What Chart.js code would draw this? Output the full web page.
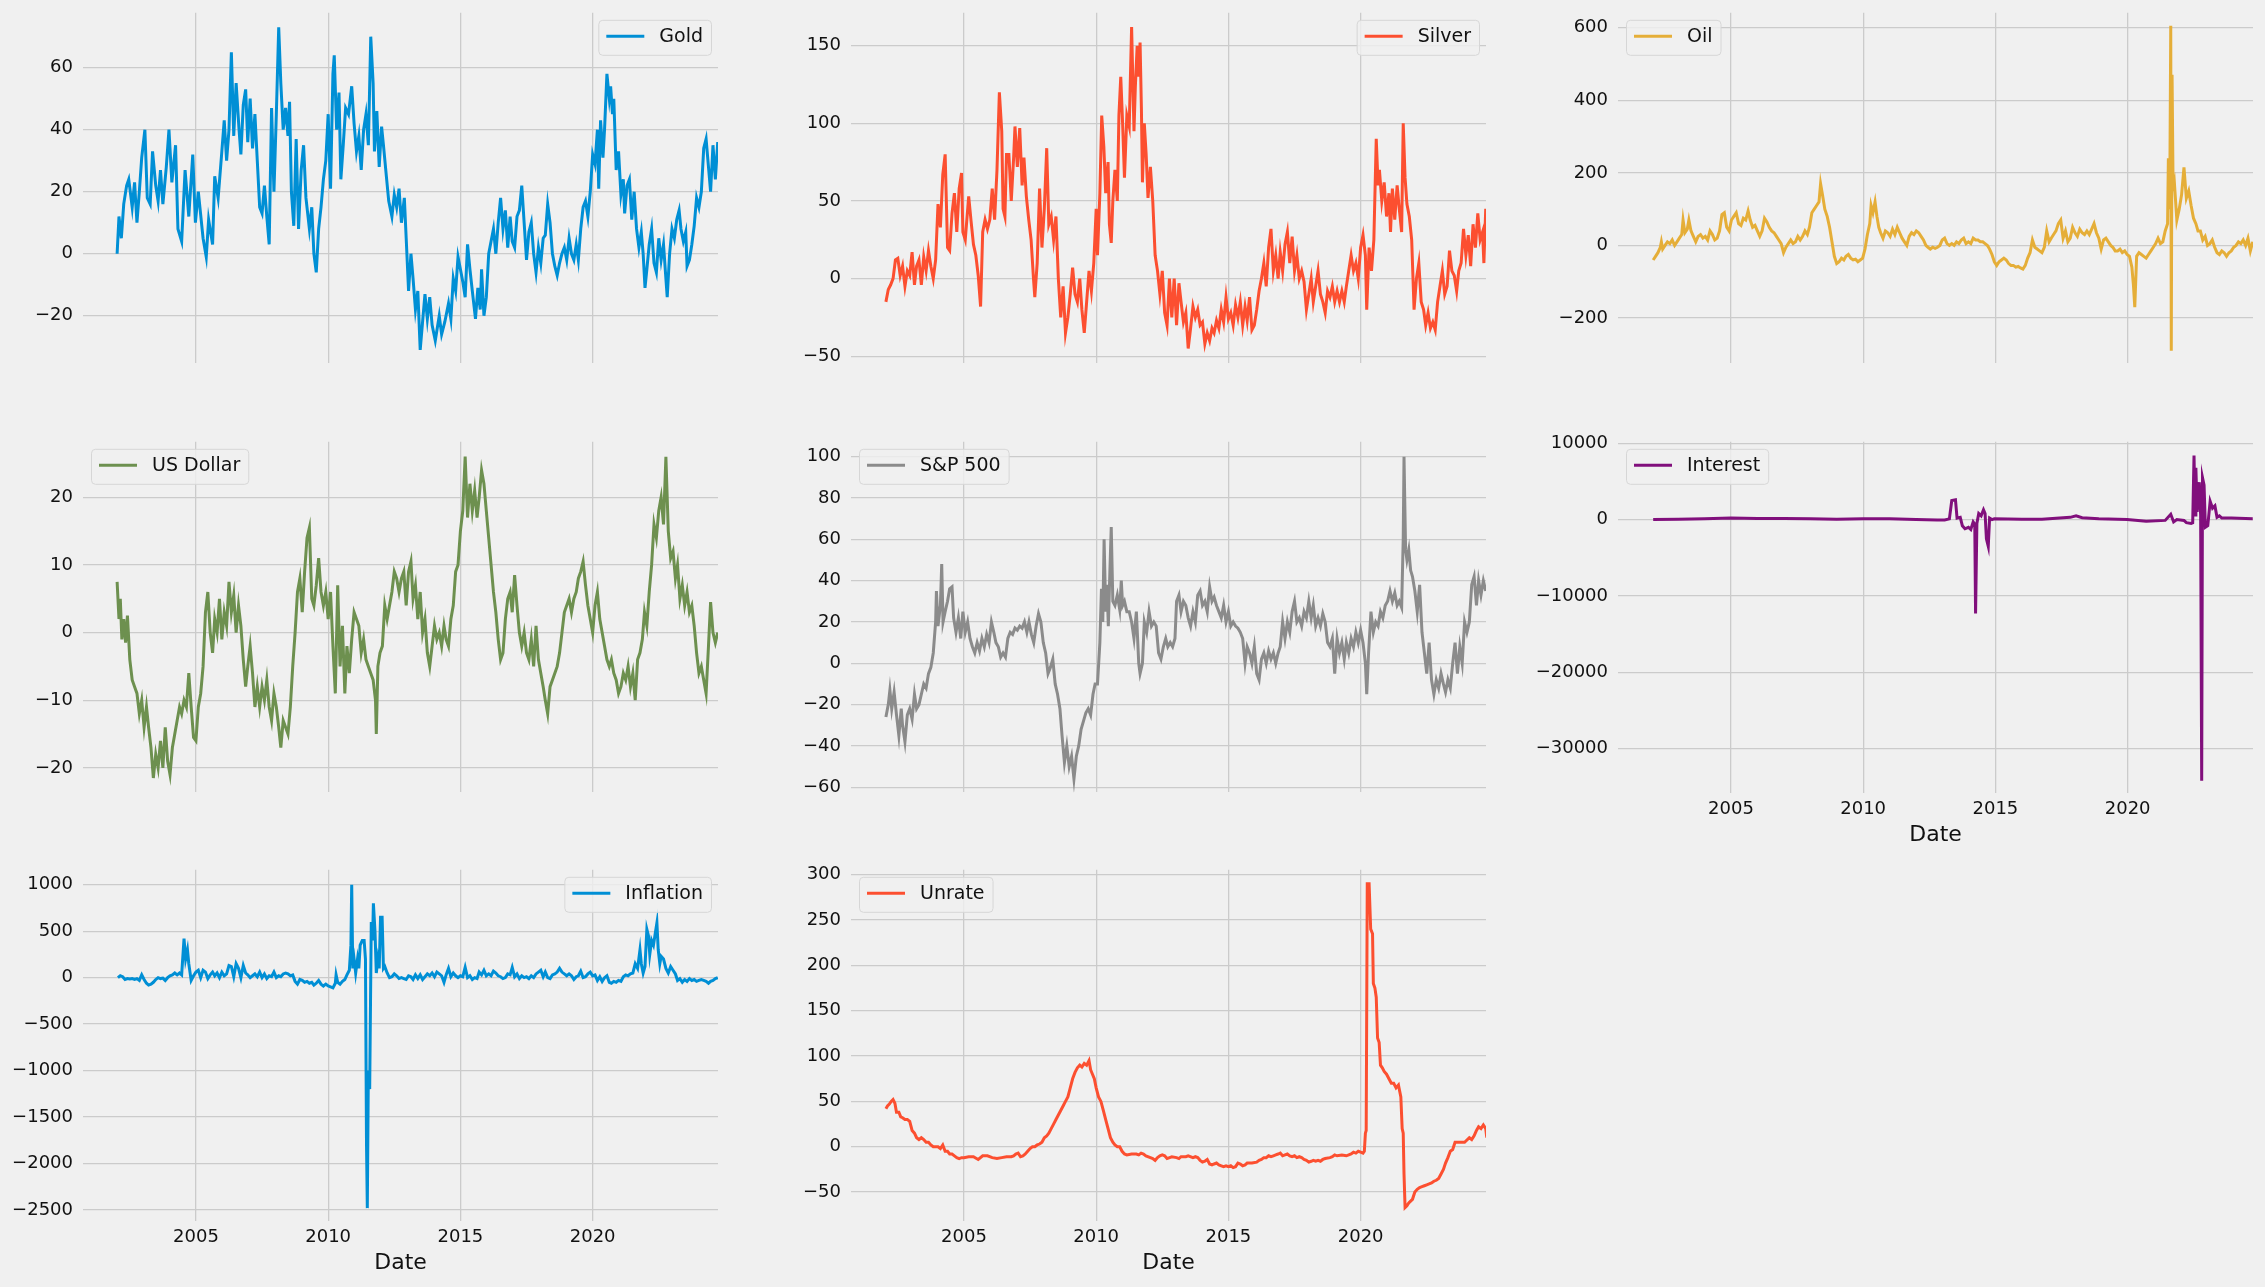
<!DOCTYPE html>
<html>
<head>
<meta charset="utf-8">
<script src="https://cdn.jsdelivr.net/npm/chart.js@4.4.1/dist/chart.umd.min.js"></script>
<style>
  html, body { margin: 0; padding: 0; background: #f0f0f0; overflow: hidden; }
  #fig { position: relative; width: 2265px; height: 1287px; background: #f0f0f0; }
  #fig canvas { position: absolute; }
</style>
</head>
<body>
<div id="fig"></div>
<script>
// percent-change series, [decimal year, value]
const gold = [[2002.02,0],[2002.09,12],[2002.18,5],[2002.27,16],[2002.38,22],[2002.46,24],[2002.59,15],[2002.68,23],[2002.77,10],[2002.86,20],[2002.95,31],[2003.07,40],[2003.16,18],[2003.27,16],[2003.36,33],[2003.48,22],[2003.57,17],[2003.66,27],[2003.75,16],[2003.88,28],[2003.98,40],[2004.09,23],[2004.23,35],[2004.32,8],[2004.46,4],[2004.59,27],[2004.73,12],[2004.88,32],[2004.98,10],[2005.09,20],[2005.27,5],[2005.39,-1],[2005.48,11],[2005.63,3],[2005.71,25],[2005.84,18],[2005.98,33],[2006.07,43],[2006.16,30],[2006.25,40],[2006.34,65],[2006.43,38],[2006.52,55],[2006.63,40],[2006.70,32],[2006.79,48],[2006.88,53],[2006.96,36],[2007.05,50],[2007.14,34],[2007.23,45],[2007.32,30],[2007.41,15],[2007.50,13],[2007.59,22],[2007.68,12],[2007.77,3],[2007.86,47],[2007.95,20],[2008.04,45],[2008.13,73],[2008.21,55],[2008.30,40],[2008.39,47],[2008.48,38],[2008.54,49],[2008.61,20],[2008.70,9],[2008.79,37],[2008.88,8],[2008.98,27],[2009.07,35],[2009.16,18],[2009.29,8],[2009.38,15],[2009.46,0],[2009.55,-6],[2009.64,8],[2009.73,15],[2009.82,24],[2009.91,30],[2010.00,45],[2010.09,21],[2010.18,58],[2010.23,64],[2010.32,40],[2010.41,52],[2010.48,24],[2010.57,35],[2010.66,47],[2010.77,45],[2010.89,54],[2010.98,42],[2011.07,33],[2011.16,38],[2011.25,27],[2011.34,40],[2011.43,45],[2011.52,35],[2011.61,70],[2011.70,55],[2011.75,33],[2011.84,46],[2011.93,28],[2012.02,41],[2012.09,35],[2012.20,25],[2012.29,17],[2012.41,12],[2012.50,19],[2012.59,15],[2012.68,21],[2012.77,10],[2012.88,18],[2012.95,5],[2013.04,-12],[2013.13,0],[2013.21,-8],[2013.30,-18],[2013.39,-12],[2013.48,-31],[2013.57,-22],[2013.66,-13],[2013.75,-21],[2013.84,-14],[2013.93,-23],[2014.05,-28],[2014.20,-20],[2014.29,-26],[2014.41,-22],[2014.55,-16],[2014.64,-21],[2014.73,-8],[2014.82,-12],[2014.91,-1],[2015.00,-5],[2015.09,-9],[2015.18,-14],[2015.27,3],[2015.36,-5],[2015.45,-12],[2015.57,-21],[2015.66,-11],[2015.75,-18],[2015.80,-5],[2015.89,-20],[2015.98,-14],[2016.07,0],[2016.16,4],[2016.25,8],[2016.34,0],[2016.43,10],[2016.52,18],[2016.61,8],[2016.70,14],[2016.79,2],[2016.88,12],[2016.96,4],[2017.05,2],[2017.14,12],[2017.23,14],[2017.32,22],[2017.41,10],[2017.50,-2],[2017.59,7],[2017.68,10],[2017.77,0],[2017.86,-6],[2017.95,2],[2018.04,-3],[2018.13,5],[2018.21,6],[2018.30,16],[2018.39,10],[2018.48,0],[2018.57,-4],[2018.66,-7],[2018.75,-3],[2018.84,0],[2018.93,2],[2019.02,-2],[2019.11,5],[2019.20,0],[2019.29,-2],[2019.38,3],[2019.46,-2],[2019.55,8],[2019.64,15],[2019.73,17],[2019.82,12],[2019.91,20],[2020.00,32],[2020.09,29],[2020.18,40],[2020.23,21],[2020.30,43],[2020.39,31],[2020.45,40],[2020.54,58],[2020.63,50],[2020.68,54],[2020.75,45],[2020.80,50],[2020.89,27],[2020.98,33],[2021.07,19],[2021.16,24],[2021.21,13],[2021.30,22],[2021.39,24],[2021.48,11],[2021.57,20],[2021.66,8],[2021.75,2],[2021.84,7],[2021.91,0],[2021.98,-11],[2022.05,-5],[2022.14,3],[2022.23,8],[2022.32,-3],[2022.41,-6],[2022.50,5],[2022.59,-2],[2022.68,3],[2022.77,-8],[2022.82,-14],[2022.91,0],[2023.00,8],[2023.09,5],[2023.18,11],[2023.27,14],[2023.34,8],[2023.43,4],[2023.52,7],[2023.57,-4],[2023.66,-2],[2023.75,3],[2023.84,9],[2023.93,18],[2024.02,15],[2024.11,20],[2024.20,34],[2024.29,37],[2024.38,28],[2024.46,20],[2024.55,35],[2024.64,24],[2024.73,36]];

const silver = [[2002.05,-15],[2002.14,-7],[2002.23,-4],[2002.32,0],[2002.41,12],[2002.50,13],[2002.59,2],[2002.68,8],[2002.77,-5],[2002.86,5],[2002.95,2],[2003.04,17],[2003.13,-4],[2003.21,8],[2003.30,12],[2003.39,-4],[2003.48,14],[2003.57,5],[2003.66,18],[2003.75,8],[2003.84,0],[2003.93,12],[2004.02,48],[2004.11,33],[2004.20,67],[2004.29,80],[2004.38,20],[2004.46,18],[2004.55,42],[2004.64,55],[2004.73,30],[2004.82,58],[2004.91,68],[2004.96,30],[2005.05,25],[2005.18,53],[2005.27,37],[2005.36,22],[2005.45,15],[2005.54,2],[2005.63,-18],[2005.71,30],[2005.80,38],[2005.89,32],[2005.98,38],[2006.07,58],[2006.16,38],[2006.25,70],[2006.34,120],[2006.43,95],[2006.48,45],[2006.55,40],[2006.61,80],[2006.70,80],[2006.79,50],[2006.88,78],[2006.93,98],[2007.02,72],[2007.11,97],[2007.20,60],[2007.27,78],[2007.36,53],[2007.45,38],[2007.54,25],[2007.63,0],[2007.68,-12],[2007.77,10],[2007.86,58],[2007.95,20],[2008.04,45],[2008.13,84],[2008.21,35],[2008.30,40],[2008.39,25],[2008.48,40],[2008.57,0],[2008.66,-25],[2008.75,-5],[2008.84,-35],[2008.93,-25],[2009.02,-10],[2009.11,7],[2009.20,-10],[2009.29,-15],[2009.38,0],[2009.46,-20],[2009.55,-35],[2009.64,-15],[2009.73,5],[2009.82,-8],[2009.91,10],[2010.00,45],[2010.05,15],[2010.14,55],[2010.21,105],[2010.29,85],[2010.36,55],[2010.45,75],[2010.50,35],[2010.57,23],[2010.63,50],[2010.71,70],[2010.80,50],[2010.86,105],[2010.93,130],[2011.00,100],[2011.07,65],[2011.16,105],[2011.25,98],[2011.34,162],[2011.43,95],[2011.48,123],[2011.55,150],[2011.61,130],[2011.66,152],[2011.71,110],[2011.75,62],[2011.82,100],[2011.89,80],[2011.96,52],[2012.05,72],[2012.14,50],[2012.23,15],[2012.32,5],[2012.41,-10],[2012.50,5],[2012.59,-22],[2012.68,-30],[2012.77,0],[2012.86,-25],[2012.95,0],[2013.04,-30],[2013.13,-3],[2013.21,-15],[2013.30,-28],[2013.39,-22],[2013.48,-45],[2013.57,-32],[2013.66,-18],[2013.75,-25],[2013.84,-20],[2013.93,-30],[2014.02,-28],[2014.11,-42],[2014.20,-35],[2014.29,-40],[2014.38,-32],[2014.46,-35],[2014.55,-27],[2014.64,-32],[2014.73,-20],[2014.82,-28],[2014.91,-12],[2015.00,-26],[2015.09,-22],[2015.18,-30],[2015.27,-17],[2015.36,-25],[2015.45,-15],[2015.54,-30],[2015.63,-18],[2015.71,-27],[2015.80,-12],[2015.89,-33],[2015.98,-30],[2016.07,-20],[2016.16,-8],[2016.25,0],[2016.34,10],[2016.43,-5],[2016.52,20],[2016.61,32],[2016.70,5],[2016.79,15],[2016.88,0],[2016.96,17],[2017.05,5],[2017.14,22],[2017.23,30],[2017.32,10],[2017.41,27],[2017.50,5],[2017.59,15],[2017.68,0],[2017.77,5],[2017.86,-2],[2017.95,-20],[2018.04,-10],[2018.13,0],[2018.21,-15],[2018.30,-5],[2018.39,5],[2018.48,-10],[2018.57,-15],[2018.66,-22],[2018.75,-8],[2018.84,-12],[2018.93,-5],[2019.02,-15],[2019.11,-8],[2019.20,-15],[2019.29,-8],[2019.38,-15],[2019.46,-5],[2019.55,5],[2019.64,15],[2019.73,5],[2019.82,10],[2019.91,0],[2020.00,20],[2020.09,28],[2020.18,15],[2020.23,-20],[2020.32,20],[2020.41,5],[2020.50,25],[2020.59,90],[2020.66,60],[2020.71,70],[2020.80,50],[2020.89,62],[2020.98,40],[2021.07,55],[2021.13,30],[2021.20,58],[2021.29,38],[2021.38,60],[2021.46,45],[2021.55,30],[2021.61,100],[2021.68,65],[2021.75,48],[2021.84,40],[2021.93,25],[2022.02,-20],[2022.11,0],[2022.20,10],[2022.29,-15],[2022.38,-20],[2022.46,-30],[2022.55,-22],[2022.64,-32],[2022.73,-28],[2022.82,-33],[2022.91,-15],[2023.00,-5],[2023.09,5],[2023.18,-10],[2023.27,-5],[2023.36,18],[2023.45,5],[2023.54,2],[2023.63,-8],[2023.71,5],[2023.80,10],[2023.89,32],[2023.98,15],[2024.07,28],[2024.16,8],[2024.25,35],[2024.34,20],[2024.43,42],[2024.52,25],[2024.61,30],[2024.66,10],[2024.73,45]];

const oil = [[2002.06,-40],[2002.15,-30],[2002.24,-20],[2002.33,-5],[2002.37,10],[2002.42,-10],[2002.51,0],[2002.60,10],[2002.69,5],[2002.78,15],[2002.87,0],[2002.96,10],[2003.05,20],[2003.14,30],[2003.19,70],[2003.26,35],[2003.35,45],[2003.41,70],[2003.49,40],[2003.58,25],[2003.67,10],[2003.76,25],[2003.85,30],[2003.94,20],[2004.03,25],[2004.12,15],[2004.21,40],[2004.30,30],[2004.39,15],[2004.48,20],[2004.57,40],[2004.66,85],[2004.75,90],[2004.84,50],[2004.93,40],[2005.02,70],[2005.11,80],[2005.20,90],[2005.29,60],[2005.38,55],[2005.47,75],[2005.56,70],[2005.65,95],[2005.73,70],[2005.82,50],[2005.91,55],[2006.00,40],[2006.09,25],[2006.18,40],[2006.27,75],[2006.36,65],[2006.45,50],[2006.54,40],[2006.63,35],[2006.72,25],[2006.81,15],[2006.90,5],[2006.99,-20],[2007.08,-5],[2007.17,5],[2007.26,15],[2007.35,5],[2007.44,10],[2007.53,25],[2007.62,15],[2007.71,25],[2007.80,40],[2007.89,30],[2007.97,50],[2008.06,90],[2008.15,100],[2008.24,110],[2008.33,120],[2008.39,170],[2008.46,140],[2008.55,100],[2008.64,80],[2008.73,50],[2008.82,10],[2008.91,-30],[2009.00,-50],[2009.09,-45],[2009.18,-35],[2009.27,-40],[2009.35,-30],[2009.44,-25],[2009.53,-35],[2009.62,-40],[2009.71,-38],[2009.80,-45],[2009.89,-40],[2009.98,-35],[2010.07,-10],[2010.16,30],[2010.25,60],[2010.30,110],[2010.37,90],[2010.45,120],[2010.52,80],[2010.59,50],[2010.66,35],[2010.75,20],[2010.84,40],[2010.93,35],[2011.02,25],[2011.11,45],[2011.20,30],[2011.29,50],[2011.38,35],[2011.47,20],[2011.56,10],[2011.65,0],[2011.74,25],[2011.83,35],[2011.92,30],[2012.01,40],[2012.10,35],[2012.19,25],[2012.28,15],[2012.37,0],[2012.45,-5],[2012.54,-10],[2012.63,-5],[2012.72,-8],[2012.81,-5],[2012.90,0],[2012.99,15],[2013.08,20],[2013.17,5],[2013.26,0],[2013.35,5],[2013.44,0],[2013.53,10],[2013.62,5],[2013.71,15],[2013.80,20],[2013.89,5],[2013.98,10],[2014.07,5],[2014.16,20],[2014.25,15],[2014.34,15],[2014.43,10],[2014.52,10],[2014.61,5],[2014.70,0],[2014.78,-10],[2014.87,-25],[2014.96,-45],[2015.05,-55],[2015.14,-45],[2015.23,-40],[2015.32,-35],[2015.41,-40],[2015.50,-50],[2015.59,-55],[2015.68,-55],[2015.77,-60],[2015.86,-58],[2015.95,-62],[2016.04,-65],[2016.13,-55],[2016.22,-35],[2016.31,-20],[2016.40,15],[2016.49,-5],[2016.58,-10],[2016.67,-15],[2016.76,-20],[2016.85,-5],[2016.94,40],[2017.03,10],[2017.11,20],[2017.20,30],[2017.29,40],[2017.38,60],[2017.47,70],[2017.56,20],[2017.65,40],[2017.74,10],[2017.83,20],[2017.92,50],[2018.01,35],[2018.10,25],[2018.19,45],[2018.28,35],[2018.37,30],[2018.46,40],[2018.55,30],[2018.64,45],[2018.73,60],[2018.82,35],[2018.91,20],[2019.00,-10],[2019.09,15],[2019.18,20],[2019.27,10],[2019.36,0],[2019.44,-5],[2019.53,-15],[2019.62,-15],[2019.71,-10],[2019.80,-20],[2019.89,-15],[2019.98,-25],[2020.07,-30],[2020.16,-60],[2020.22,-110],[2020.27,-170],[2020.34,-30],[2020.43,-20],[2020.52,-25],[2020.61,-30],[2020.70,-35],[2020.79,-25],[2020.88,-15],[2020.97,-5],[2021.06,5],[2021.15,20],[2021.24,5],[2021.33,10],[2021.42,40],[2021.51,60],[2021.54,240],[2021.59,100],[2021.63,605],[2021.65,-290],[2021.68,470],[2021.72,150],[2021.77,170],[2021.86,70],[2021.95,100],[2022.04,140],[2022.13,215],[2022.22,130],[2022.31,150],[2022.40,110],[2022.49,75],[2022.58,60],[2022.66,40],[2022.75,40],[2022.84,15],[2022.93,25],[2023.02,0],[2023.11,5],[2023.20,15],[2023.29,-5],[2023.38,-20],[2023.47,-25],[2023.56,-15],[2023.65,-20],[2023.74,-30],[2023.83,-20],[2023.92,-15],[2024.01,-5],[2024.10,0],[2024.19,10],[2024.28,5],[2024.37,15],[2024.46,0],[2024.55,20],[2024.64,-15],[2024.73,10]];

const usd = [[2002.02,7.5],[2002.09,2],[2002.14,5],[2002.20,-1],[2002.27,2],[2002.34,-1.5],[2002.41,2.5],[2002.50,-4],[2002.59,-7],[2002.68,-8],[2002.77,-9],[2002.86,-12],[2002.95,-10],[2003.04,-14],[2003.13,-11],[2003.21,-14],[2003.30,-17],[2003.39,-21.5],[2003.48,-18],[2003.57,-20],[2003.66,-16],[2003.75,-20],[2003.84,-14],[2003.93,-19],[2004.02,-21],[2004.11,-17],[2004.20,-15],[2004.29,-13],[2004.38,-11],[2004.46,-12],[2004.55,-10],[2004.64,-11],[2004.73,-6],[2004.82,-11],[2004.91,-15.5],[2005.00,-16],[2005.09,-11],[2005.18,-9],[2005.27,-5],[2005.36,3],[2005.45,6],[2005.54,0],[2005.63,-3],[2005.71,2],[2005.80,0],[2005.89,5],[2005.98,-1],[2006.07,3],[2006.16,1],[2006.25,7.5],[2006.34,3],[2006.43,5.5],[2006.52,0],[2006.61,4],[2006.70,1],[2006.79,-4],[2006.88,-8],[2006.96,-5],[2007.05,-2],[2007.14,-6],[2007.23,-11],[2007.32,-8],[2007.41,-11],[2007.50,-8],[2007.59,-10],[2007.68,-7],[2007.77,-11],[2007.86,-13],[2007.95,-9],[2008.04,-11],[2008.13,-14],[2008.21,-17],[2008.30,-13],[2008.39,-14],[2008.48,-15],[2008.57,-11],[2008.66,-5],[2008.75,0],[2008.84,6],[2008.93,8],[2009.02,3],[2009.11,9],[2009.20,14],[2009.29,15.5],[2009.38,5],[2009.46,4],[2009.55,7],[2009.64,11],[2009.73,6],[2009.82,4],[2009.91,6],[2010.00,2],[2010.09,6],[2010.18,-2],[2010.27,-9],[2010.36,7],[2010.45,-5],[2010.54,1],[2010.63,-9],[2010.71,-2],[2010.80,-6],[2010.89,-1],[2010.98,3],[2011.07,2],[2011.16,1],[2011.25,-3],[2011.34,-1],[2011.43,-4],[2011.52,-5],[2011.61,-6],[2011.70,-7],[2011.79,-10],[2011.82,-15],[2011.88,-5],[2011.96,-3],[2012.05,-2],[2012.14,4],[2012.23,2],[2012.32,4],[2012.41,6],[2012.50,9],[2012.59,8],[2012.68,6],[2012.77,8],[2012.86,9],[2012.95,4],[2013.04,9],[2013.13,10.5],[2013.21,5],[2013.30,7],[2013.39,2],[2013.48,6],[2013.57,0],[2013.66,2],[2013.75,-3],[2013.84,-5],[2013.93,-2],[2014.02,1],[2014.11,-1],[2014.20,0],[2014.29,-2],[2014.38,1],[2014.46,-1],[2014.55,-2],[2014.64,2],[2014.73,4],[2014.82,9],[2014.91,10],[2015.00,15],[2015.09,18],[2015.18,26],[2015.27,17],[2015.36,22],[2015.45,18],[2015.54,21],[2015.63,17],[2015.71,20],[2015.80,24],[2015.89,22],[2015.98,18],[2016.07,14],[2016.16,10],[2016.25,6],[2016.34,3],[2016.43,-1],[2016.52,-4],[2016.61,-3],[2016.70,2],[2016.79,5],[2016.88,6],[2016.96,3],[2017.05,8.5],[2017.14,4],[2017.23,0],[2017.32,-2],[2017.41,0],[2017.50,-3],[2017.59,-4],[2017.68,-1],[2017.77,-5],[2017.86,1],[2017.95,-4],[2018.04,-6],[2018.13,-8],[2018.21,-10],[2018.30,-12],[2018.39,-8],[2018.48,-7],[2018.57,-6],[2018.66,-5],[2018.75,-3],[2018.84,0],[2018.93,3],[2019.02,4],[2019.11,5],[2019.20,3],[2019.29,5],[2019.38,6],[2019.46,8],[2019.55,9],[2019.64,10.5],[2019.73,7],[2019.82,4],[2019.91,2],[2020.00,0],[2020.09,4],[2020.18,6],[2020.27,2],[2020.36,0],[2020.45,-2],[2020.54,-4],[2020.63,-5],[2020.71,-4],[2020.80,-6],[2020.89,-7],[2020.98,-9],[2021.07,-8],[2021.16,-6],[2021.25,-7],[2021.34,-5],[2021.43,-8],[2021.52,-6],[2021.61,-10],[2021.70,-4],[2021.79,-3],[2021.88,-1],[2021.96,3],[2022.05,1],[2022.14,6],[2022.23,10],[2022.32,16],[2022.41,14],[2022.50,18],[2022.59,20],[2022.68,16],[2022.77,26],[2022.86,15],[2022.95,11],[2023.04,12],[2023.13,8],[2023.21,10],[2023.30,5],[2023.39,7],[2023.48,4],[2023.57,6],[2023.66,3],[2023.75,4],[2023.84,1],[2023.93,-3],[2024.02,-6],[2024.11,-5],[2024.20,-7],[2024.29,-9],[2024.38,-2],[2024.46,4.5],[2024.55,0],[2024.64,-1.5],[2024.73,0]];

const sp500 = [[2002.05,-26],[2002.14,-20],[2002.20,-13],[2002.27,-22],[2002.36,-14],[2002.45,-25],[2002.54,-35],[2002.63,-22],[2002.68,-30],[2002.77,-38],[2002.86,-25],[2002.95,-22],[2003.04,-27],[2003.13,-15],[2003.21,-22],[2003.30,-20],[2003.39,-15],[2003.48,-10],[2003.57,-12],[2003.66,-5],[2003.75,-2],[2003.84,5],[2003.93,20],[2003.96,35],[2004.02,18],[2004.11,28],[2004.16,48],[2004.21,20],[2004.29,25],[2004.38,30],[2004.46,36],[2004.55,37],[2004.61,22],[2004.70,15],[2004.79,22],[2004.88,12],[2004.96,25],[2005.05,15],[2005.14,20],[2005.23,12],[2005.32,8],[2005.41,5],[2005.50,10],[2005.59,6],[2005.68,12],[2005.77,8],[2005.86,14],[2005.95,10],[2006.04,20],[2006.13,15],[2006.21,10],[2006.30,8],[2006.39,3],[2006.48,5],[2006.57,3],[2006.66,12],[2006.75,15],[2006.84,14],[2006.93,17],[2007.02,16],[2007.11,18],[2007.20,17],[2007.29,20],[2007.38,15],[2007.46,20],[2007.55,14],[2007.64,10],[2007.73,18],[2007.82,24],[2007.91,20],[2008.00,10],[2008.09,5],[2008.18,-5],[2008.27,-2],[2008.36,2],[2008.45,-10],[2008.54,-15],[2008.63,-22],[2008.71,-35],[2008.80,-48],[2008.89,-40],[2008.98,-50],[2009.07,-45],[2009.16,-56],[2009.25,-45],[2009.34,-40],[2009.43,-32],[2009.52,-28],[2009.61,-24],[2009.70,-22],[2009.79,-25],[2009.88,-15],[2009.96,-10],[2010.05,-10],[2010.14,10],[2010.20,36],[2010.25,20],[2010.30,60],[2010.36,25],[2010.41,38],[2010.46,18],[2010.52,45],[2010.57,66],[2010.63,30],[2010.71,28],[2010.80,33],[2010.89,26],[2010.95,40],[2011.00,28],[2011.07,30],[2011.16,25],[2011.25,25],[2011.34,20],[2011.43,12],[2011.52,25],[2011.61,0],[2011.66,-5],[2011.75,0],[2011.82,20],[2011.91,15],[2012.00,25],[2012.09,18],[2012.18,20],[2012.27,18],[2012.36,5],[2012.45,2],[2012.54,8],[2012.63,12],[2012.71,8],[2012.80,10],[2012.89,8],[2012.98,12],[2013.04,30],[2013.13,33],[2013.21,25],[2013.30,30],[2013.39,28],[2013.48,22],[2013.57,18],[2013.66,25],[2013.75,20],[2013.84,33],[2013.93,35],[2014.02,28],[2014.11,30],[2014.20,25],[2014.29,37],[2014.38,30],[2014.46,32],[2014.55,28],[2014.64,25],[2014.73,22],[2014.82,28],[2014.91,20],[2015.00,25],[2015.09,18],[2015.18,20],[2015.27,18],[2015.36,17],[2015.45,15],[2015.54,12],[2015.63,0],[2015.71,8],[2015.80,5],[2015.89,0],[2015.98,8],[2016.07,-5],[2016.16,-8],[2016.25,2],[2016.34,5],[2016.43,0],[2016.52,6],[2016.61,2],[2016.70,5],[2016.79,0],[2016.88,5],[2016.96,8],[2017.05,20],[2017.14,12],[2017.23,20],[2017.32,15],[2017.41,25],[2017.50,30],[2017.59,20],[2017.68,22],[2017.77,18],[2017.86,25],[2017.95,22],[2018.04,30],[2018.13,22],[2018.21,28],[2018.30,18],[2018.39,22],[2018.48,18],[2018.57,24],[2018.66,20],[2018.75,10],[2018.84,8],[2018.93,12],[2019.02,-5],[2019.11,12],[2019.20,5],[2019.29,10],[2019.38,2],[2019.46,10],[2019.55,5],[2019.64,12],[2019.73,8],[2019.82,15],[2019.91,10],[2020.00,16],[2020.09,10],[2020.18,0],[2020.23,-15],[2020.30,5],[2020.39,25],[2020.48,15],[2020.57,20],[2020.66,18],[2020.75,25],[2020.84,22],[2020.93,28],[2021.02,30],[2021.11,35],[2021.20,30],[2021.29,34],[2021.38,28],[2021.46,30],[2021.55,27],[2021.61,60],[2021.64,100],[2021.70,55],[2021.75,50],[2021.82,55],[2021.89,45],[2021.96,42],[2022.05,35],[2022.14,25],[2022.23,38],[2022.32,15],[2022.41,5],[2022.50,-5],[2022.59,10],[2022.68,-8],[2022.77,-15],[2022.86,-8],[2022.95,-12],[2023.04,-5],[2023.13,-10],[2023.21,-14],[2023.30,-8],[2023.39,-12],[2023.48,0],[2023.57,10],[2023.66,-5],[2023.75,8],[2023.84,0],[2023.93,20],[2024.02,15],[2024.11,20],[2024.20,38],[2024.29,42],[2024.38,28],[2024.46,40],[2024.55,33],[2024.64,40],[2024.73,35]];

const interest = [[2002.06,0],[2003.00,50],[2004.00,100],[2005.00,200],[2006.00,150],[2007.00,150],[2008.00,100],[2009.00,50],[2010.00,100],[2011.00,100],[2012.00,0],[2012.80,-50],[2013.08,-50],[2013.26,100],[2013.35,2500],[2013.49,2600],[2013.55,200],[2013.67,300],[2013.75,-800],[2013.85,-1200],[2013.98,-1000],[2014.07,-1300],[2014.16,-300],[2014.22,-600],[2014.25,-12300],[2014.30,-500],[2014.37,800],[2014.46,500],[2014.55,1300],[2014.61,800],[2014.66,-2500],[2014.73,-3500],[2014.78,200],[2014.87,0],[2014.96,100],[2016.00,50],[2016.76,50],[2017.83,300],[2018.05,500],[2018.28,250],[2018.91,100],[2019.98,0],[2020.70,-200],[2021.42,-100],[2021.63,700],[2021.74,-300],[2021.86,0],[2022.13,-100],[2022.22,-400],[2022.40,-500],[2022.46,-400],[2022.51,8400],[2022.55,600],[2022.58,6800],[2022.63,1000],[2022.71,4900],[2022.76,600],[2022.80,-34200],[2022.83,5500],[2022.89,4500],[2022.94,-1000],[2023.03,-800],[2023.12,2400],[2023.21,1500],[2023.30,1800],[2023.38,300],[2023.47,500],[2023.56,200],[2023.92,200],[2024.73,100]];

const inflation = [[2002.05,0],[2002.14,20],[2002.23,10],[2002.32,-20],[2002.41,-10],[2002.50,-15],[2002.59,-10],[2002.68,-20],[2002.77,-10],[2002.86,-30],[2002.95,30],[2003.04,-20],[2003.13,-60],[2003.21,-80],[2003.30,-70],[2003.39,-50],[2003.48,-20],[2003.57,0],[2003.66,-10],[2003.75,-5],[2003.84,-30],[2003.93,0],[2004.02,20],[2004.11,30],[2004.20,50],[2004.29,30],[2004.38,50],[2004.46,30],[2004.55,420],[2004.61,200],[2004.68,300],[2004.73,150],[2004.82,-30],[2004.91,20],[2005.00,60],[2005.09,80],[2005.18,0],[2005.27,80],[2005.36,60],[2005.45,-10],[2005.54,30],[2005.63,60],[2005.71,20],[2005.80,50],[2005.89,0],[2005.98,60],[2006.07,20],[2006.16,40],[2006.25,130],[2006.34,120],[2006.43,10],[2006.52,150],[2006.61,100],[2006.70,0],[2006.79,130],[2006.88,50],[2006.96,30],[2007.05,0],[2007.14,20],[2007.23,40],[2007.32,10],[2007.41,60],[2007.50,0],[2007.59,40],[2007.68,-10],[2007.77,20],[2007.86,10],[2007.95,60],[2008.04,0],[2008.13,20],[2008.21,10],[2008.30,40],[2008.39,50],[2008.48,40],[2008.57,20],[2008.66,30],[2008.75,-40],[2008.84,-70],[2008.93,-20],[2009.02,-30],[2009.11,-50],[2009.20,-40],[2009.29,-60],[2009.38,-50],[2009.46,-80],[2009.55,-60],[2009.64,-30],[2009.73,-70],[2009.82,-90],[2009.91,-70],[2010.00,-90],[2010.09,-100],[2010.18,-110],[2010.27,-60],[2010.30,30],[2010.36,-50],[2010.45,-70],[2010.54,-40],[2010.63,-20],[2010.71,30],[2010.80,80],[2010.86,350],[2010.89,1000],[2010.93,100],[2010.98,200],[2011.04,50],[2011.11,200],[2011.16,100],[2011.21,350],[2011.29,400],[2011.36,400],[2011.41,200],[2011.45,-1800],[2011.48,-2480],[2011.52,-1000],[2011.57,-1200],[2011.63,600],[2011.68,400],[2011.71,800],[2011.77,500],[2011.82,50],[2011.88,200],[2011.93,100],[2011.98,650],[2012.04,650],[2012.09,100],[2012.14,120],[2012.23,50],[2012.32,0],[2012.41,10],[2012.50,40],[2012.59,20],[2012.68,-10],[2012.77,0],[2012.86,-10],[2012.95,-20],[2013.04,20],[2013.13,10],[2013.21,-20],[2013.30,30],[2013.39,-10],[2013.48,30],[2013.57,-20],[2013.66,10],[2013.75,40],[2013.84,20],[2013.93,50],[2014.02,10],[2014.11,60],[2014.20,40],[2014.29,20],[2014.38,-50],[2014.46,30],[2014.55,100],[2014.64,10],[2014.73,50],[2014.82,20],[2014.91,0],[2015.00,20],[2015.09,10],[2015.18,110],[2015.27,0],[2015.36,20],[2015.45,-20],[2015.54,0],[2015.63,-10],[2015.71,60],[2015.80,30],[2015.89,80],[2015.98,20],[2016.07,40],[2016.16,20],[2016.25,70],[2016.34,50],[2016.43,20],[2016.52,10],[2016.61,-10],[2016.70,0],[2016.79,40],[2016.88,30],[2016.96,110],[2017.05,10],[2017.14,40],[2017.23,-10],[2017.32,20],[2017.41,0],[2017.50,10],[2017.59,-10],[2017.68,20],[2017.77,0],[2017.86,40],[2017.95,60],[2018.04,80],[2018.13,10],[2018.21,60],[2018.30,0],[2018.39,-10],[2018.48,30],[2018.57,40],[2018.66,60],[2018.75,100],[2018.84,60],[2018.93,40],[2019.02,20],[2019.11,40],[2019.20,20],[2019.29,-20],[2019.38,10],[2019.46,20],[2019.55,70],[2019.64,0],[2019.73,10],[2019.82,40],[2019.91,60],[2020.00,20],[2020.09,30],[2020.18,-30],[2020.27,10],[2020.36,-40],[2020.45,0],[2020.54,20],[2020.63,-50],[2020.71,-60],[2020.80,-40],[2020.89,-50],[2020.98,-30],[2021.07,-40],[2021.16,10],[2021.25,30],[2021.34,20],[2021.43,40],[2021.52,50],[2021.61,150],[2021.70,100],[2021.79,300],[2021.84,150],[2021.91,50],[2021.98,120],[2022.05,520],[2022.11,450],[2022.16,250],[2022.23,400],[2022.30,350],[2022.38,500],[2022.43,590],[2022.48,300],[2022.54,150],[2022.59,230],[2022.68,200],[2022.77,100],[2022.86,50],[2022.95,120],[2023.04,80],[2023.13,40],[2023.21,-30],[2023.30,-10],[2023.39,-50],[2023.48,-20],[2023.57,-40],[2023.66,-10],[2023.75,-30],[2023.84,-20],[2023.93,-40],[2024.02,-30],[2024.11,-20],[2024.20,-30],[2024.29,-40],[2024.38,-60],[2024.46,-40],[2024.55,-30],[2024.64,-10],[2024.73,0]];

const unrate = [[2002.05,42],[2002.11,45],[2002.18,47],[2002.25,50],[2002.32,52],[2002.39,48],[2002.45,38],[2002.54,38],[2002.61,33],[2002.68,32],[2002.77,30],[2002.86,30],[2002.95,28],[2003.04,18],[2003.13,15],[2003.21,10],[2003.30,8],[2003.39,10],[2003.48,8],[2003.57,5],[2003.66,5],[2003.75,2],[2003.84,0],[2003.93,0],[2004.02,0],[2004.11,-2],[2004.20,2],[2004.29,-5],[2004.38,-5],[2004.46,-8],[2004.55,-8],[2004.64,-10],[2004.73,-12],[2004.82,-13],[2004.91,-12],[2005.00,-12],[2005.18,-11],[2005.36,-11],[2005.54,-14],[2005.71,-10],[2005.89,-10],[2006.07,-12],[2006.25,-13],[2006.43,-12],[2006.61,-11],[2006.79,-11],[2006.88,-10],[2006.96,-8],[2007.05,-7],[2007.14,-11],[2007.23,-10],[2007.32,-8],[2007.41,-5],[2007.50,-2],[2007.59,0],[2007.68,0],[2007.77,2],[2007.86,3],[2007.95,5],[2008.04,10],[2008.13,12],[2008.21,15],[2008.30,20],[2008.39,25],[2008.48,30],[2008.57,35],[2008.66,40],[2008.75,45],[2008.84,50],[2008.93,55],[2009.02,65],[2009.11,75],[2009.20,82],[2009.29,87],[2009.38,90],[2009.46,88],[2009.55,92],[2009.64,90],[2009.73,95],[2009.79,85],[2009.86,80],[2009.93,75],[2010.00,65],[2010.09,55],[2010.18,50],[2010.27,40],[2010.36,30],[2010.45,20],[2010.54,10],[2010.63,5],[2010.71,2],[2010.80,0],[2010.89,0],[2010.98,-5],[2011.07,-8],[2011.16,-9],[2011.34,-8],[2011.52,-8],[2011.61,-9],[2011.70,-7],[2011.79,-8],[2011.88,-10],[2012.05,-12],[2012.14,-13],[2012.23,-15],[2012.32,-12],[2012.41,-10],[2012.50,-9],[2012.59,-10],[2012.68,-13],[2012.86,-11],[2013.04,-12],[2013.13,-13],[2013.21,-11],[2013.39,-11],[2013.48,-10],[2013.66,-12],[2013.75,-11],[2013.84,-12],[2013.93,-15],[2014.02,-17],[2014.11,-16],[2014.20,-14],[2014.29,-19],[2014.38,-20],[2014.46,-19],[2014.55,-18],[2014.64,-20],[2014.73,-21],[2014.82,-22],[2014.91,-21],[2015.00,-22],[2015.09,-21],[2015.18,-23],[2015.27,-22],[2015.36,-18],[2015.45,-19],[2015.54,-21],[2015.63,-20],[2015.71,-18],[2015.89,-18],[2016.07,-17],[2016.16,-15],[2016.25,-14],[2016.34,-12],[2016.43,-12],[2016.52,-10],[2016.61,-11],[2016.70,-10],[2016.79,-9],[2016.88,-8],[2016.96,-7],[2017.05,-10],[2017.14,-9],[2017.23,-8],[2017.32,-10],[2017.41,-11],[2017.50,-10],[2017.59,-12],[2017.68,-11],[2017.77,-12],[2017.86,-14],[2017.95,-15],[2018.04,-17],[2018.13,-16],[2018.21,-15],[2018.30,-16],[2018.39,-15],[2018.48,-16],[2018.57,-14],[2018.66,-13],[2018.84,-12],[2018.93,-11],[2019.02,-9],[2019.11,-10],[2019.29,-9],[2019.46,-10],[2019.55,-9],[2019.64,-8],[2019.73,-6],[2019.82,-7],[2019.91,-5],[2020.00,-6],[2020.09,-7],[2020.14,-5],[2020.18,15],[2020.21,18],[2020.25,290],[2020.32,290],[2020.38,240],[2020.45,235],[2020.48,180],[2020.54,175],[2020.59,165],[2020.64,120],[2020.70,115],[2020.75,90],[2020.82,87],[2020.89,83],[2020.98,80],[2021.07,75],[2021.16,70],[2021.25,70],[2021.34,65],[2021.43,68],[2021.52,55],[2021.57,20],[2021.61,15],[2021.64,-30],[2021.68,-67],[2021.75,-65],[2021.82,-62],[2021.89,-60],[2021.96,-58],[2022.05,-50],[2022.14,-47],[2022.23,-45],[2022.32,-44],[2022.41,-43],[2022.50,-42],[2022.59,-41],[2022.68,-40],[2022.77,-38],[2022.86,-37],[2022.95,-35],[2023.04,-30],[2023.13,-25],[2023.21,-18],[2023.30,-12],[2023.39,-5],[2023.48,-3],[2023.57,5],[2023.75,5],[2023.93,5],[2024.11,10],[2024.20,8],[2024.29,12],[2024.38,18],[2024.46,22],[2024.55,20],[2024.64,24],[2024.73,20],[2024.77,10]];

// tick labels
const yearTicks = [2005, 2010, 2015, 2020];
const goldTicks = [-20, 0, 20, 40, 60];
const silverTicks = [-50, 0, 50, 100, 150];
const oilTicks = [-200, 0, 200, 400, 600];
const usdTicks = [-20, -10, 0, 10, 20];
const spTicks = [-60, -40, -20, 0, 20, 40, 60, 80, 100];
const interestTicks = [-30000, -20000, -10000, 0, 10000];
const inflationTicks = [-2500, -2000, -1500, -1000, -500, 0, 500, 1000];
const unrateTicks = [-50, 0, 50, 100, 150, 200, 250, 300];

// grid of subplots, page pixels
const COL_LEFT = [83, 851, 1618];
const ROW_TOP = [12, 441, 869];
const PLOT_W = 635, PLOT_H = 352;
const AXIS_W = 110, PAD = 20, XAXIS_H = 60;
const X_MIN = 2000.73, X_MAX = 2024.74;
const FONT = 'DejaVu Sans';
const LINE_W = 3;

Chart.defaults.font.family = FONT;
Chart.defaults.color = '#111';

const panels = [
  { name: 'Gold', data: gold, color: '#008fd5', col: 0, row: 0, yMin: -35.3, yMax: 77.7, ticks: goldTicks, legend: 'right' },
  { name: 'Silver', data: silver, color: '#fc4f30', col: 1, row: 0, yMin: -54.5, yMax: 171.2, ticks: silverTicks, legend: 'right' },
  { name: 'Oil', data: oil, color: '#e5ae38', col: 2, row: 0, yMin: -324.5, yMax: 641, ticks: oilTicks, legend: 'left' },
  { name: 'US Dollar', data: usd, color: '#6d904f', col: 0, row: 1, yMin: -23.6, yMax: 28.2, ticks: usdTicks, legend: 'left' },
  { name: 'S&P 500', data: sp500, color: '#8b8b8b', col: 1, row: 1, yMin: -62.4, yMax: 107.2, ticks: spTicks, legend: 'left' },
  { name: 'Interest', data: interest, color: '#810f7c', col: 2, row: 1, yMin: -35817, yMax: 10196, ticks: interestTicks, legend: 'left', dateAxis: true },
  { name: 'Inflation', data: inflation, color: '#008fd5', col: 0, row: 2, yMin: -2618.6, yMax: 1160.6, ticks: inflationTicks, legend: 'right', dateAxis: true },
  { name: 'Unrate', data: unrate, color: '#fc4f30', col: 1, row: 2, yMin: -81.9, yMax: 305.5, ticks: unrateTicks, legend: 'left', dateAxis: true }
];

// matplotlib-style legend inside the axes
const insideLegend = {
  id: 'insideLegend',
  afterDraw(chart, args, opts) {
    const { ctx, chartArea: a } = chart;
    ctx.save();
    ctx.font = '19px "' + FONT + '"';
    const tw = ctx.measureText(opts.text).width;
    const w = 61 + tw + 8, h = 35;
    const x = opts.side === 'right' ? a.right - 7 - w : a.left + 8;
    const y = a.top + 7;
    ctx.beginPath();
    if (ctx.roundRect) ctx.roundRect(x + 0.5, y + 0.5, w, h, 4); else ctx.rect(x + 0.5, y + 0.5, w, h);
    ctx.fillStyle = 'rgba(240,240,240,0.8)';
    ctx.fill();
    ctx.strokeStyle = '#d6d6d6';
    ctx.lineWidth = 1;
    ctx.stroke();
    ctx.beginPath();
    ctx.moveTo(x + 8, y + h / 2 - 1);
    ctx.lineTo(x + 46, y + h / 2 - 1);
    ctx.strokeStyle = opts.color;
    ctx.lineWidth = LINE_W;
    ctx.stroke();
    ctx.fillStyle = '#111';
    ctx.textBaseline = 'middle';
    ctx.fillText(opts.text, x + 61, y + h / 2);
    ctx.restore();
  }
};

const minus = v => (v < 0 ? '\u2212' + Math.abs(v) : String(v));
const fig = document.getElementById('fig');

panels.forEach(p => {
  const bottom = p.dateAxis ? XAXIS_H : PAD;
  const w = AXIS_W + PLOT_W + PAD, h = PAD + PLOT_H + bottom;
  const cv = document.createElement('canvas');
  cv.width = w; cv.height = h;
  cv.style.width = w + 'px'; cv.style.height = h + 'px';
  cv.style.left = (COL_LEFT[p.col] - AXIS_W) + 'px';
  cv.style.top = (ROW_TOP[p.row] - PAD) + 'px';
  fig.appendChild(cv);

  new Chart(cv, {
    type: 'line',
    data: {
      datasets: [{
        label: p.name,
        data: p.data.map(d => ({ x: d[0], y: d[1] })),
        borderColor: p.color,
        borderWidth: LINE_W,
        pointRadius: 0,
        tension: 0,
        fill: false
      }]
    },
    options: {
      responsive: false,
      animation: false,
      events: [],
      layout: { padding: { left: 0, top: PAD, right: PAD, bottom: p.dateAxis ? 0 : PAD } },
      plugins: {
        legend: { display: false },
        tooltip: { enabled: false },
        insideLegend: { text: p.name, color: p.color, side: p.legend }
      },
      scales: {
        x: {
          type: 'linear',
          min: X_MIN,
          max: X_MAX,
          afterBuildTicks: s => { s.ticks = yearTicks.map(v => ({ value: v })); },
          afterFit: s => { s.height = p.dateAxis ? XAXIS_H : 0; },
          grid: { color: '#cbcbcb', lineWidth: 1.3, drawTicks: false },
          border: { display: false },
          ticks: {
            display: !!p.dateAxis,
            padding: 6,
            maxRotation: 0,
            autoSkip: false,
            font: { size: 18 },
            callback: v => String(v)
          },
          title: {
            display: !!p.dateAxis,
            text: 'Date',
            font: { size: 22 },
            padding: { top: 0, bottom: 5 }
          }
        },
        y: {
          min: p.yMin,
          max: p.yMax,
          afterBuildTicks: s => { s.ticks = p.ticks.map(v => ({ value: v })); },
          afterFit: s => { s.width = AXIS_W; },
          grid: { color: '#cbcbcb', lineWidth: 1.3, drawTicks: false },
          border: { display: false },
          ticks: { padding: 10, font: { size: 18 }, callback: v => minus(v) }
        }
      }
    },
    plugins: [insideLegend]
  });
});
</script>
</body>
</html>
